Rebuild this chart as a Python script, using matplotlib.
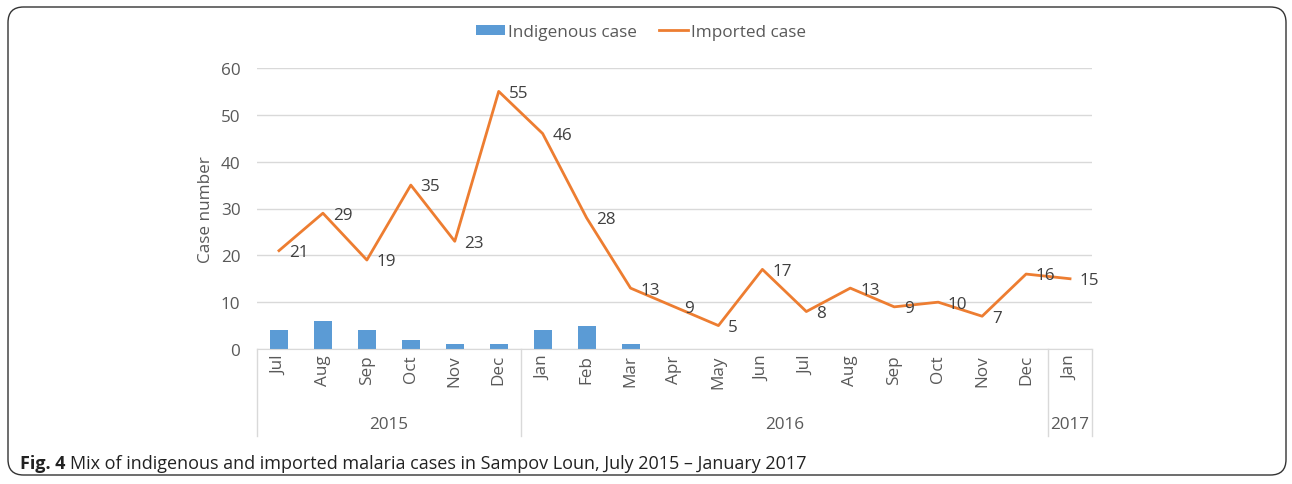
import matplotlib
matplotlib.use("Agg")
import matplotlib.pyplot as plt
from matplotlib.patches import FancyBboxPatch
from matplotlib.lines import Line2D
import numpy as np

months = ["Jul", "Aug", "Sep", "Oct", "Nov", "Dec", "Jan", "Feb", "Mar", "Apr",
          "May", "Jun", "Jul", "Aug", "Sep", "Oct", "Nov", "Dec", "Jan"]
years = ["2015", "2016", "2017"]
year_counts = [6, 12, 1]
indigenous = [4, 6, 4, 2, 1, 1, 4, 5, 1, 0, 0, 0, 0, 0, 0, 0, 0, 0, 0]
imported = [21, 29, 19, 35, 23, 55, 46, 28, 13, 9, 5, 17, 8, 13, 9, 10, 7, 16, 15]
yticks = [0, 10, 20, 30, 40, 50, 60]

FONT = ["Open Sans", "DejaVu Sans"]
plt.rcParams['font.family'] = FONT
FS = 12.3

W, H = 1292, 485
fig = plt.figure(figsize=(W / 100, H / 100), dpi=100)

# border
border = FancyBboxPatch((8 / W, 9 / H), (1286 - 8) / W, (477 - 9) / H,
                        boxstyle="round,pad=0,rounding_size=0.012",
                        transform=fig.transFigure, facecolor="none",
                        edgecolor="#333333", linewidth=1.0, mutation_aspect=W / H,
                        zorder=-1)
fig.patches.append(border)

left, right = 257 / W, 1092 / W
bottom, top = 1 - 350 / H, 1 - 69 / H
ax = fig.add_axes([left, bottom, right - left, top - bottom])
ax.set_facecolor("none")

x = np.arange(len(months))
bars = ax.bar(x, indigenous, width=0.41, color="#5B9BD5", zorder=2, label="Indigenous case")
line, = ax.plot(x, imported, color="#ED7D31", linewidth=2.0, zorder=3, label="Imported case")
for xi, v in zip(x, imported):
    ax.annotate(str(v), (xi, v), xytext=(7, -1), textcoords="offset points",
                ha="left", va="center", fontsize=FS, color="#404040", zorder=4)

ax.set_xlim(-0.5, len(months) - 0.5)
ax.set_ylim(0, 60)
ax.set_yticks(yticks)
ax.yaxis.grid(True, color="#d9d9d9", linewidth=1.0, zorder=0)
ax.set_axisbelow(True)
ax.tick_params(axis="y", length=0, labelsize=FS, labelcolor="#595959", pad=12)
ax.set_xticks([])
for s in ["top", "right", "left"]:
    ax.spines[s].set_visible(False)
ax.spines["bottom"].set_color("#d9d9d9")
ax.set_ylabel("Case number", fontsize=FS, color="#595959", labelpad=5)

# category axis (months + years)
trans = ax.get_xaxis_transform()
box_bottom = -(437 - 350) / 281
for xi, m in zip(x, months):
    ax.text(xi, -0.018, m, rotation=90, ha="center", va="top", fontsize=FS,
            color="#595959", transform=trans, clip_on=False)
start = 0
bounds = [-0.5]
for yr, n in zip(years, year_counts):
    mid = start + (n - 1) / 2
    ax.text(mid, -(425 - 350) / 281, yr, ha="center", va="center", fontsize=FS,
            color="#595959", transform=trans, clip_on=False)
    start += n
    bounds.append(start - 0.5)
for b in bounds:
    ax.add_line(Line2D([b, b], [0, box_bottom], transform=trans, color="#d9d9d9",
                       linewidth=1.0, clip_on=False))

# legend
fig.legend([bars, line], ["Indigenous case", "Imported case"], loc="center",
           bbox_to_anchor=(641 / W, 1 - 33 / H),
           ncol=2, frameon=False, fontsize=FS, labelcolor="#595959",
           handlelength=1.7, handleheight=0.6, handletextpad=0.15, columnspacing=1.3)

# caption
fig.canvas.draw()
r = fig.canvas.get_renderer()
cap_font = ["Open Sans", "DejaVu Sans"]
t1 = fig.text(20 / W, 1 - 464 / H, "Fig. 4", fontsize=13, fontweight="bold",
              family=cap_font, color="#222222", va="center", ha="left")
bb = t1.get_window_extent(renderer=r)
fig.text((bb.x1 + 5) / W, 1 - 464 / H,
         "Mix of indigenous and imported malaria cases in Sampov Loun, July 2015 \u2013 January 2017",
         fontsize=13, family=cap_font, color="#222222", va="center", ha="left")

fig.savefig("out.png", dpi=100)
